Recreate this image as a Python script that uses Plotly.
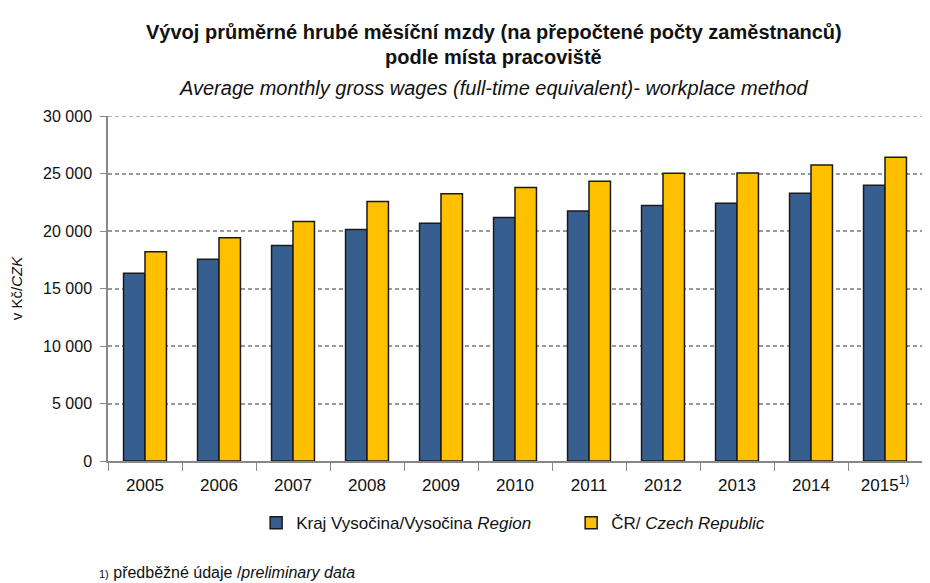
import plotly.graph_objects as go

years = ["2005", "2006", "2007", "2008", "2009", "2010", "2011", "2012", "2013", "2014", "2015<sup>1)</sup>"]
vysocina = [16320, 17540, 18730, 20120, 20670, 21170, 21740, 22210, 22410, 23280, 23980]
cr = [18200, 19420, 20820, 22560, 23250, 23780, 24330, 25020, 25050, 25740, 26410]
y_ticks = [0, 5000, 10000, 15000, 20000, 25000, 30000]

REG = "Liberation Sans, Arial, sans-serif"
GRID = "#9a9a9a"

fig = go.Figure()
fig.add_trace(go.Bar(
    x=years, y=vysocina, name="Kraj Vysočina/Vysočina <i>Region</i>",
    marker=dict(color="#365E8F", line=dict(color="#1a1a1a", width=1.5)),
))
fig.add_trace(go.Bar(
    x=years, y=cr, name="ČR/ <i>Czech Republic</i>",
    marker=dict(color="#FFC000", line=dict(color="#1a1a1a", width=1.5)),
))

# page body has an 8px margin: figure is offset by (8,8) in the window
fig.update_layout(
    width=922, height=575,
    margin=dict(l=100, r=8, t=108, b=122, autoexpand=False),
    paper_bgcolor="white", plot_bgcolor="white",
    separators=", ",
    barmode="group", bargap=0.42, bargroupgap=0.0,
    showlegend=True,
    legend=dict(orientation="h", x=0.182, y=-0.18, xanchor="left", yanchor="middle",
                font=dict(family=REG, size=17, color="#111"),
                entrywidth=270, itemwidth=30, traceorder="normal"),
    font=dict(family=REG, color="#111"),
)

fig.update_xaxes(
    type="category", range=[-0.5, 10.5],
    showline=True, linecolor="#888", linewidth=1.5,
    ticks="outside", tickson="boundaries", ticklen=8, tickcolor="#888",
    tickfont=dict(family=REG, size=17, color="#111"),
    ticklabelstandoff=8,
    showgrid=False,
)
fig.update_yaxes(
    range=[0, 30000], tickvals=y_ticks, tickformat=",d",
    showline=True, linecolor="#888", linewidth=1.5,
    ticks="outside", ticklen=6, tickcolor="#888",
    tickfont=dict(family=REG, size=16, color="#111"),
    ticklabelstandoff=5,
    showgrid=True, gridcolor=GRID, gridwidth=1.5, griddash="4px,3px",
    title=dict(text="v Kč/<i>CZK</i>", font=dict(family=REG, size=15, color="#111"), standoff=17),
    zeroline=False,
)

# top gridline (hidden by plotly at the axis edge)
fig.add_shape(type="line", xref="paper", yref="y", x0=0, x1=1, y0=y_ticks[-1], y1=y_ticks[-1],
              line=dict(color=GRID, width=1.5, dash="4px,3px"), layer="below")

fig.add_annotation(xref="paper", yref="paper", x=0.474, y=1.0, yshift=84, yanchor="middle",
                   text="<b>Vývoj průměrné hrubé měsíční mzdy (na přepočtené počty zaměstnanců)</b>",
                   showarrow=False, font=dict(family=REG, size=20, color="#111"))
fig.add_annotation(xref="paper", yref="paper", x=0.474, y=1.0, yshift=59, yanchor="middle",
                   text="<b>podle místa pracoviště</b>",
                   showarrow=False, font=dict(family=REG, size=20, color="#111"))
fig.add_annotation(xref="paper", yref="paper", x=0.474, y=1.0, yshift=28, yanchor="middle",
                   text="<i>Average monthly gross wages (full-time equivalent)- workplace method</i>",
                   showarrow=False, font=dict(family=REG, size=20, color="#111"))
fig.add_annotation(xref="paper", yref="paper", x=-0.013, y=0, yshift=-111, xanchor="left", yanchor="middle",
                   text="<span style='font-size:11px'>1)</span> předběžné údaje /<i>preliminary data</i>",
                   showarrow=False, font=dict(family=REG, size=16, color="#111"))

fig.write_html("out.html")
